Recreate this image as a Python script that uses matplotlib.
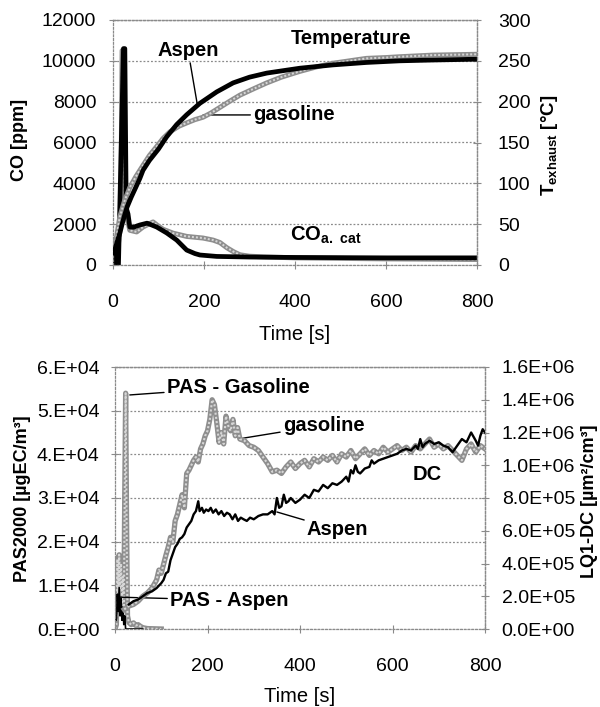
#!/usr/bin/env python
"""Exhaust CO / temperature and particle signals, Aspen vs gasoline."""
import matplotlib
matplotlib.use('Agg')
import matplotlib.pyplot as plt
from matplotlib import font_manager
import numpy as np


# --- top panel: exhaust temperature [degC] (right axis) ---
time_temp_aspen = [2, 10, 15, 20, 25, 31, 40, 50, 59, 66, 80, 100, 118, 140,
                   162, 191, 228, 264, 300, 338, 411, 483, 557, 630, 703, 800]
temp_aspen = [15, 30, 39, 50, 60, 71, 83, 95, 106, 116, 128, 142, 157, 172,
              184, 198, 212, 223, 230, 235, 241, 245, 248, 250, 251, 252]

time_temp_gas = [2, 8, 15, 25, 37, 50, 66, 80, 96, 110, 125, 145, 162, 180,
                 198, 215, 235, 255, 279, 310, 338, 370, 410, 450, 483, 520,
                 557, 600, 630, 703, 800]
temp_gas = [20, 35, 59, 78, 95, 108, 122, 134, 145, 155, 163, 170, 174, 178,
            181, 186, 193, 200, 208, 216, 223, 230, 237, 243, 247, 250,
            253, 254, 255, 257, 258]

# --- top panel: CO after catalyst [ppm] (left axis) ---
time_co_aspen = [0, 3, 4, 12, 23, 26, 29, 33, 37, 45, 59, 75, 96, 118, 140,
                 162, 180, 191, 228, 300, 400, 500, 600, 700, 800]
co_aspen = [900, 900, 0, 0, 10600, 10600, 2800, 2500, 1860, 1850, 1960, 2050,
            1860, 1570, 1220, 730, 560, 490, 420, 390, 370, 360, 350, 350, 350]

time_co_gas = [2, 10, 17, 20, 23, 26, 32, 37, 52, 66, 88, 100, 110, 132, 162,
               198, 220, 235, 250, 265, 279, 300, 330, 400, 600, 800]
co_gas = [500, 700, 2000, 10500, 10500, 3000, 2200, 1700, 1620, 1860, 2110,
          1900, 1750, 1560, 1400, 1320, 1220, 1100, 850, 650, 500, 430, 400,
          350, 300, 270]

# --- bottom panel: PAS2000 [ugEC/m3] (left axis) ---
time_pas_gas = [0, 3, 5, 7, 9, 11, 13, 15, 17, 19, 21, 23, 25, 27, 30, 35, 40,
                45, 50, 55, 60, 70, 100]
pas_gas = [0, 1000, 16000, 5000, 17000, 9000, 15000, 6000, 12000, 3000, 30000,
           54000, 25000, 3000, 1500, 1000, 1400, 800, 1000, 600, 300, 100, 0]

time_pas_aspen = [2, 3, 5, 7, 9, 11, 13, 15, 17, 19, 21, 23, 30, 60]
pas_aspen = [2000, 2000, 8000, 4000, 9500, 3000, 7000, 2000, 5000, 1000, 3000,
             0, 0, 0]

# --- bottom panel: LQ1-DC [um2/cm3] (right axis), in units of 1e6 ---
time_dc_gas = [20, 30, 40, 50, 60, 70, 80, 90, 95, 100, 110, 115, 120, 125,
               130, 135, 140, 145, 150, 155, 160, 165, 170, 175, 180, 185, 190,
               195, 200, 205, 210, 215, 220, 225, 230, 235, 240, 245, 250, 255,
               260, 265, 270, 280, 290, 300, 310, 320, 330, 340, 350, 360, 370,
               380, 390, 400, 410, 420, 430, 440, 450, 460, 470, 480, 490, 500,
               510, 520, 530, 540, 550, 560, 570, 580, 590, 600, 610, 620, 630,
               640, 650, 660, 670, 680, 690, 700, 710, 720, 730, 740, 750, 760,
               770, 780, 790, 800]
dc_gas = [0.12, 0.14, 0.15, 0.17, 0.20, 0.22, 0.25, 0.30, 0.36, 0.34, 0.45,
          0.50, 0.56, 0.53, 0.66, 0.70, 0.76, 0.82, 0.74, 0.95, 0.97, 1.00,
          1.03, 1.05, 1.02, 1.10, 1.13, 1.18, 1.21, 1.28, 1.40, 1.37, 1.26,
          1.14, 1.20, 1.13, 1.30, 1.24, 1.21, 1.28, 1.18, 1.23, 1.16, 1.15,
          1.12, 1.11, 1.09, 1.05, 1.01, 0.96, 0.97, 0.95, 0.99, 1.02, 0.98,
          1.01, 1.03, 0.99, 1.04, 1.02, 1.05, 1.03, 1.06, 1.02, 1.07, 1.05,
          1.09, 1.04, 1.07, 1.10, 1.06, 1.09, 1.07, 1.11, 1.08, 1.10, 1.12,
          1.09, 1.11, 1.08, 1.12, 1.10, 1.13, 1.16, 1.11, 1.13, 1.10, 1.12,
          1.09, 1.06, 1.03, 1.10, 1.13, 1.08, 1.12, 1.10]

time_dc_aspen = [30, 40, 50, 60, 70, 80, 90, 100, 105, 110, 115, 120, 125, 130,
                 135, 140, 145, 150, 155, 160, 165, 170, 175, 180, 183, 188,
                 192, 197, 202, 207, 212, 218, 224, 230, 236, 242, 248, 254,
                 260, 266, 272, 278, 285, 292, 300, 310, 320, 330, 340, 345,
                 350, 355, 360, 365, 370, 375, 380, 390, 400, 410, 420, 430,
                 440, 450, 460, 470, 480, 490, 500, 505, 510, 515, 520, 525,
                 530, 540, 550, 555, 560, 570, 580, 590, 600, 610, 620, 630,
                 640, 650, 655, 660, 665, 670, 680, 690, 700, 710, 720, 730,
                 740, 750, 760, 770, 780, 785, 790, 795, 800]
dc_aspen = [0.15, 0.17, 0.18, 0.20, 0.22, 0.23, 0.25, 0.28, 0.30, 0.34, 0.35,
            0.42, 0.46, 0.50, 0.52, 0.55, 0.56, 0.58, 0.62, 0.64, 0.66, 0.70,
            0.72, 0.78, 0.72, 0.74, 0.71, 0.73, 0.72, 0.74, 0.71, 0.73, 0.70,
            0.72, 0.69, 0.71, 0.70, 0.67, 0.70, 0.66, 0.68, 0.67, 0.66, 0.68,
            0.67, 0.69, 0.70, 0.70, 0.72, 0.70, 0.80, 0.74, 0.75, 0.82, 0.77,
            0.78, 0.80, 0.77, 0.79, 0.82, 0.80, 0.85, 0.84, 0.88, 0.86, 0.89,
            0.88, 0.90, 0.93, 0.90, 0.97, 0.95, 1.00, 0.96, 0.95, 0.98, 0.99,
            1.03, 1.01, 1.03, 1.04, 1.05, 1.06, 1.07, 1.09, 1.10, 1.09, 1.12,
            1.10, 1.16, 1.11, 1.13, 1.15, 1.13, 1.14, 1.12, 1.11, 1.08, 1.12,
            1.16, 1.14, 1.20, 1.15, 1.12, 1.18, 1.22, 1.20]

# --- axis ticks ---
time_ticks = [0, 200, 400, 600, 800]
co_ticks = [0, 2000, 4000, 6000, 8000, 10000, 12000]
temp_ticks = [0, 50, 100, 150, 200, 250, 300]
pas_ticks = [0, 1e4, 2e4, 3e4, 4e4, 5e4, 6e4]
pas_labels = ['0.E+00', '1.E+04', '2.E+04', '3.E+04', '4.E+04', '5.E+04',
              '6.E+04']
dc_ticks = [0, 2e5, 4e5, 6e5, 8e5, 1e6, 1.2e6, 1.4e6, 1.6e6]
dc_labels = ['0.0E+00', '2.0E+05', '4.0E+05', '6.0E+05', '8.0E+05',
             '1.0E+06', '1.2E+06', '1.4E+06', '1.6E+06']

W, H = 600, 707
names = {f.name for f in font_manager.fontManager.ttflist}
if 'Liberation Sans Narrow' in names:
    TICK_FONT, TICK_SIZE = 'Liberation Sans Narrow', 15
else:
    TICK_FONT, TICK_SIZE = 'Liberation Sans', 14

plt.rcParams['font.family'] = ['Liberation Sans', 'DejaVu Sans']
plt.rcParams['mathtext.fontset'] = 'custom'
plt.rcParams['mathtext.rm'] = 'Liberation Sans'
plt.rcParams['mathtext.bf'] = 'Liberation Sans:bold'

GRID = '#8a8a8a'
BOLD = dict(fontsize=14.5, fontweight='bold')
LINE = dict(arrowstyle='-', color='black', lw=1.0, shrinkA=0, shrinkB=0)


def grey_line(ax, t, y, lw):
    """Grey hatched-looking thick line."""
    ax.plot(t, y, color='#8e8e8e', lw=lw, solid_joinstyle='round')
    ax.plot(t, y, color='#d6d6d6', lw=lw * 0.4, ls=(0, (1, 1)))


def style_axes(ax, axr, xpad, lpad, rpad):
    for a in (ax, axr):
        for s in a.spines.values():
            s.set_linestyle((0, (1.5, 1.5)))
            s.set_color(GRID)
            s.set_linewidth(0.9)
    axr.spines['left'].set_visible(False)
    axr.spines['bottom'].set_visible(False)
    ax.yaxis.grid(True, ls=(0, (1.5, 1.5)), color=GRID, lw=0.9)
    ax.set_axisbelow(True)
    ax.tick_params(axis='x', direction='inout', length=6, color=GRID,
                   pad=xpad)
    ax.tick_params(axis='y', direction='inout', length=6, color=GRID,
                   pad=lpad)
    axr.tick_params(axis='y', direction='inout', length=6, color=GRID,
                    pad=rpad)
    for lab in ax.get_xticklabels() + ax.get_yticklabels() + \
            axr.get_yticklabels():
        lab.set_fontfamily(TICK_FONT)
        lab.set_fontsize(TICK_SIZE)


def axes_rect(left, right, top, bottom):
    return [left / W, 1 - bottom / H, (right - left) / W, (bottom - top) / H]


fig = plt.figure(figsize=(W / 100, H / 100), dpi=100)

# ---------------- top panel ----------------
ax1 = fig.add_axes(axes_rect(113, 477, 20, 265))
ax1r = ax1.twinx()
grey_line(ax1, time_co_gas, co_gas, 3.6)
ax1.plot(time_co_aspen, co_aspen, color='black', lw=3.4)
grey_line(ax1r, time_temp_gas, temp_gas, 3.6)
ax1r.plot(time_temp_aspen, temp_aspen, color='black', lw=3.4)

ax1.set_xlim(0, 800)
ax1.set_ylim(0, 12000)
ax1r.set_ylim(0, 300)
ax1.set_xticks(time_ticks)
ax1.set_yticks(co_ticks)
ax1r.set_yticks(temp_ticks)
style_axes(ax1, ax1r, xpad=18, lpad=9, rpad=12)

ax1.annotate('Aspen', xy=(185, 7900), xytext=(165, 10500), ha='center',
             va='center', arrowprops=LINE, **BOLD)
ax1.annotate('gasoline', xy=(198, 7350), xytext=(308, 7350), ha='left',
             va='center', arrowprops=LINE, **BOLD)
ax1.text(523, 11100, 'Temperature', ha='center', va='center', **BOLD)
ax1.text(388, 1450, r'CO$_{\mathbf{a.\ cat}}$', ha='left', va='center',
         **BOLD)

fig.text(19 / W, 1 - 140 / H, 'CO [ppm]', rotation=90, ha='center',
         va='center', fontsize=13, fontweight='bold')
fig.text(550 / W, 1 - 145 / H, r'$\mathbf{T_{exhaust}}$ [°C]', rotation=90,
         ha='center', va='center', fontsize=13.5, fontweight='bold')
fig.text(295 / W, 1 - 334 / H, 'Time [s]', ha='center', va='center',
         fontsize=14.5)

# ---------------- bottom panel ----------------
ax2 = fig.add_axes(axes_rect(115, 485, 367, 629))
ax2r = ax2.twinx()
grey_line(ax2, time_pas_gas, pas_gas, 3.8)
ax2.plot(time_pas_aspen, pas_aspen, color='black', lw=1.2)
grey_line(ax2r, time_dc_gas, np.array(dc_gas) * 1e6, 3.8)
ax2r.plot(time_dc_aspen, np.array(dc_aspen) * 1e6, color='black', lw=1.7)

ax2.set_xlim(0, 800)
ax2.set_ylim(0, 6e4)
ax2r.set_ylim(0, 1.6e6)
ax2.set_xticks(time_ticks)
ax2.set_yticks(pas_ticks)
ax2.set_yticklabels(pas_labels)
ax2r.set_yticks(dc_ticks)
ax2r.set_yticklabels(dc_labels)
style_axes(ax2, ax2r, xpad=18, lpad=8, rpad=9)

ax2.annotate('PAS - Gasoline', xy=(32, 53600), xytext=(112, 55400),
             ha='left', va='center', arrowprops=LINE, **BOLD)
ax2.annotate('gasoline', xy=(277, 43700), xytext=(363, 46700), ha='left',
             va='center', arrowprops=LINE, **BOLD)
ax2.text(644, 35300, 'DC', ha='left', va='center', **BOLD)
ax2.annotate('Aspen', xy=(350, 26800), xytext=(415, 22700), ha='left',
             va='center', arrowprops=LINE, **BOLD)
ax2.annotate('PAS - Aspen', xy=(6, 7300), xytext=(119, 6600), ha='left',
             va='center', arrowprops=LINE, **BOLD)

fig.text(23 / W, 1 - 499 / H, 'PAS2000 [µgEC/m³]', rotation=90, ha='center',
         va='center', fontsize=13, fontweight='bold')
fig.text(590 / W, 1 - 501 / H, 'LQ1-DC [µm²/cm³]', rotation=90, ha='center',
         va='center', fontsize=13, fontweight='bold')
fig.text(300 / W, 1 - 697 / H, 'Time [s]', ha='center', va='center',
         fontsize=14.5)

fig.savefig('out.png', dpi=100)
